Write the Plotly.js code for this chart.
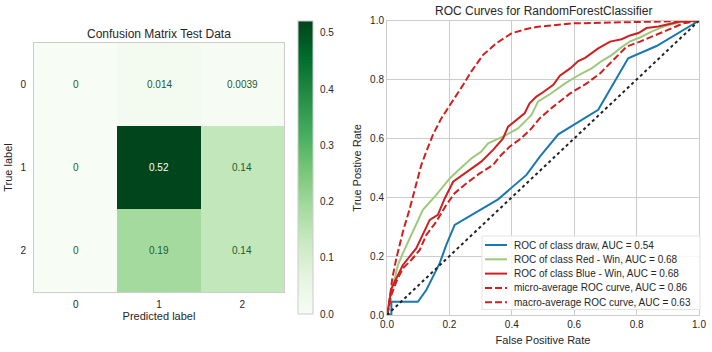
<!DOCTYPE html>
<html>
<head>
<meta charset="utf-8">
<script src="https://cdn.plot.ly/plotly-3.0.1.min.js"></script>
<style>html,body{margin:0;padding:0;background:#fff}#chart{width:712px;height:352px}</style>
</head>
<body>
<div id="chart"></div>
<script>
// ---- Confusion matrix data ----
var cmLabels = ["0", "1", "2"];
var cmRow0 = [0, 0.014, 0.0039];
var cmRow1 = [0, 0.52, 0.14];
var cmRow2 = [0, 0.19, 0.14];

// ---- ROC data ----
var drawFpr = [0, 0.014, 0.014, 0.099, 0.126, 0.169, 0.19, 0.217, 0.356, 0.447, 0.49, 0.549, 0.677, 0.773, 0.864, 1.0];
var drawTpr = [0, 0.002, 0.045, 0.045, 0.085, 0.176, 0.238, 0.306, 0.393, 0.476, 0.538, 0.614, 0.697, 0.872, 0.914, 1.0];

var redWinFpr = [0, 0.003, 0.009, 0.025, 0.035, 0.051, 0.083, 0.115, 0.158, 0.201, 0.233, 0.27, 0.302, 0.324, 0.372, 0.42, 0.463, 0.484, 0.5, 0.522, 0.571, 0.619, 0.656, 0.688, 0.72, 0.747, 0.779, 0.811, 0.848, 0.886, 0.939, 1.0];
var redWinTpr = [0, 0.02, 0.057, 0.125, 0.17, 0.21, 0.283, 0.357, 0.408, 0.464, 0.496, 0.532, 0.555, 0.583, 0.606, 0.634, 0.68, 0.725, 0.736, 0.75, 0.787, 0.818, 0.838, 0.863, 0.883, 0.906, 0.93, 0.943, 0.963, 0.98, 0.995, 1.0];

var blueWinFpr = [0, 0.003, 0.006, 0.014, 0.03, 0.051, 0.094, 0.115, 0.137, 0.163, 0.185, 0.212, 0.249, 0.286, 0.302, 0.34, 0.372, 0.388, 0.415, 0.441, 0.457, 0.479, 0.5, 0.533, 0.554, 0.587, 0.613, 0.635, 0.677, 0.715, 0.752, 0.779, 0.806, 0.832, 0.87, 0.902, 0.939, 1.0];
var blueWinTpr = [0, 0.015, 0.034, 0.09, 0.125, 0.17, 0.227, 0.272, 0.323, 0.34, 0.396, 0.453, 0.481, 0.51, 0.521, 0.561, 0.6, 0.64, 0.663, 0.685, 0.719, 0.742, 0.757, 0.782, 0.813, 0.838, 0.863, 0.874, 0.906, 0.929, 0.937, 0.95, 0.958, 0.975, 0.98, 0.988, 0.997, 1.0];

var microFpr = [0, 0.003, 0.009, 0.017, 0.03, 0.051, 0.073, 0.094, 0.11, 0.126, 0.147, 0.174, 0.206, 0.244, 0.27, 0.308, 0.35, 0.399, 0.447, 0.489, 0.597, 0.811, 1.0];
var microTpr = [0, 0.011, 0.057, 0.125, 0.193, 0.283, 0.362, 0.442, 0.51, 0.555, 0.612, 0.668, 0.719, 0.782, 0.827, 0.884, 0.923, 0.957, 0.972, 0.98, 0.991, 0.997, 1.0];

var macroFpr = [0, 0.003, 0.014, 0.03, 0.051, 0.078, 0.105, 0.126, 0.158, 0.19, 0.217, 0.254, 0.297, 0.34, 0.361, 0.393, 0.43, 0.463, 0.489, 0.533, 0.587, 0.64, 0.683, 0.725, 0.768, 0.811, 0.859, 0.896, 0.95, 1.0];
var macroTpr = [0, 0.01, 0.068, 0.113, 0.159, 0.187, 0.221, 0.272, 0.317, 0.374, 0.414, 0.447, 0.481, 0.51, 0.538, 0.572, 0.6, 0.634, 0.668, 0.708, 0.753, 0.787, 0.821, 0.867, 0.912, 0.929, 0.951, 0.968, 0.991, 1.0];

var diagX = [0, 1];
var diagY = [0, 1];

var rocNames = ["ROC of class draw, AUC = 0.54", "ROC of class Red - Win, AUC = 0.68", "ROC of class Blue - Win, AUC = 0.68", "micro-average ROC curve, AUC = 0.86", "macro-average ROC curve, AUC = 0.63"];

// ---- build ----
var W = 712, H = 352;
var FONT = '"Liberation Sans", Arial, "DejaVu Sans", sans-serif';
var TXT = '#262626';
var GRID = '#cccccc';
var C_BLUE = '#1a78b0', C_GREEN = '#9cc97c', C_RED = '#d01f1f';
var DASH = '7px,3px';

var cmZ = [cmRow0, cmRow1, cmRow2];
var greens = [[0, 'rgb(247,252,245)'], [0.125, 'rgb(229,245,224)'], [0.25, 'rgb(199,233,192)'], [0.375, 'rgb(161,217,155)'], [0.5, 'rgb(116,196,118)'], [0.625, 'rgb(65,171,93)'], [0.75, 'rgb(35,139,69)'], [0.875, 'rgb(0,109,44)'], [1, 'rgb(0,68,27)']];
var zmax = 0.521;

function fmt(v) { return String(Number(v.toPrecision(2))); }
function fx(p) { return p / W; }
function fy(p) { return (H - p) / H; }

var annotations = [];
var shapes = [];
for (var r = 0; r < cmZ.length; r++) {
  for (var c = 0; c < cmZ[r].length; c++) {
    var v = cmZ[r][c];
    annotations.push({
      x: cmLabels[c], y: cmLabels[r], xref: 'x', yref: 'y', text: fmt(v), showarrow: false,
      font: {family: FONT, size: 10, color: v > zmax * 0.6 ? '#ffffff' : '#1d5a30'}
    });
  }
}

var styles = [
  {color: C_BLUE, dash: 'solid'},
  {color: C_GREEN, dash: 'solid'},
  {color: C_RED, dash: 'solid'},
  {color: C_RED, dash: DASH},
  {color: C_RED, dash: DASH}
];
var rocX = [drawFpr, redWinFpr, blueWinFpr, microFpr, macroFpr];
var rocY = [drawTpr, redWinTpr, blueWinTpr, microTpr, macroTpr];

var traces = [
  {
    type: 'heatmap', z: cmZ, x: cmLabels, y: cmLabels, xaxis: 'x', yaxis: 'y',
    colorscale: greens, zmin: 0, zmax: zmax, xgap: 0, ygap: 0, hoverinfo: 'skip',
    colorbar: {
      x: fx(298), xanchor: 'left', xpad: 0, ypad: 0, thickness: 15, thicknessmode: 'pixels',
      len: (314 - 21) / H, lenmode: 'fraction', y: fy(314), yanchor: 'bottom',
      outlinecolor: GRID, outlinewidth: 1, tickvals: [0, 0.1, 0.2, 0.3, 0.4, 0.5], tickformat: '.1f',
      ticks: 'outside', ticklen: 5, tickcolor: 'rgba(0,0,0,0)',
      tickfont: {family: FONT, size: 10, color: TXT}
    },
    showlegend: false
  }
];
for (var i = 0; i < rocX.length; i++) {
  traces.push({type: 'scatter', mode: 'lines', x: rocX[i], y: rocY[i], xaxis: 'x2', yaxis: 'y2', name: rocNames[i],
    showlegend: false, line: {color: styles[i].color, width: 2, dash: styles[i].dash}});
}
traces.push({type: 'scatter', mode: 'lines', x: diagX, y: diagY, xaxis: 'x2', yaxis: 'y2', showlegend: false, line: {color: '#222222', width: 2, dash: 'dot'}});

// legend (drawn as box + samples + labels)
var legTop = 236, legBottom = 309.5, legLeft = 482, legRight = 700;
var rowY = [245, 259.3, 273.6, 287.9, 302.2];
shapes.push({type: 'rect', xref: 'paper', yref: 'paper', x0: fx(legLeft), x1: fx(legRight), y0: fy(legBottom), y1: fy(legTop),
  fillcolor: 'rgba(255,255,255,0.85)', line: {color: '#e3e3e3', width: 1}, layer: 'above'});
for (var k = 0; k < rocNames.length; k++) {
  shapes.push({type: 'line', xref: 'paper', yref: 'paper', x0: fx(485), x1: fx(507), y0: fy(rowY[k]), y1: fy(rowY[k]),
    line: {color: styles[k].color, width: 2, dash: styles[k].dash}, layer: 'above'});
  annotations.push({text: rocNames[k], xref: 'paper', yref: 'paper', x: fx(512), y: fy(rowY[k]), xanchor: 'left', yanchor: 'middle',
    showarrow: false, font: {family: FONT, size: 10, color: TXT}});
}

annotations.push({text: 'Confusion Matrix Test Data', xref: 'paper', yref: 'paper', x: fx((34 + 284) / 2), y: fy(34), showarrow: false, xanchor: 'center', yanchor: 'middle', font: {family: FONT, size: 12, color: TXT}});
annotations.push({text: 'ROC Curves for RandomForestClassifier', xref: 'paper', yref: 'paper', x: fx((387 + 699) / 2), y: fy(11), showarrow: false, xanchor: 'center', yanchor: 'middle', font: {family: FONT, size: 12, color: TXT}});

var axFont = {family: FONT, size: 11, color: TXT};
var tickFont = {family: FONT, size: 10, color: TXT};

var layout = {
  width: W, height: H, margin: {l: 0, r: 0, t: 0, b: 0},
  paper_bgcolor: '#ffffff', plot_bgcolor: '#ffffff',
  font: {family: FONT, color: TXT},
  showlegend: false,
  xaxis: {domain: [fx(34), fx(284)], range: [-0.5, 2.5], type: 'category', showgrid: false, zeroline: false,
    showline: true, mirror: true, linecolor: GRID, linewidth: 1, ticks: 'outside', ticklen: 3, tickcolor: 'rgba(0,0,0,0)', tickfont: tickFont,
    title: {text: 'Predicted label', font: axFont, standoff: 3}, anchor: 'y'},
  yaxis: {domain: [fy(292), fy(43)], range: [2.5, -0.5], type: 'category', autorange: false, showgrid: false, zeroline: false,
    showline: true, mirror: true, linecolor: GRID, linewidth: 1, ticks: 'outside', ticklen: 5, tickcolor: 'rgba(0,0,0,0)', tickfont: tickFont,
    title: {text: 'True label', font: axFont, standoff: 5}, anchor: 'x'},
  xaxis2: {domain: [fx(387), fx(699)], range: [0, 1], showgrid: true, gridcolor: GRID, gridwidth: 1, zeroline: false,
    showline: true, mirror: true, linecolor: GRID, linewidth: 1, ticks: '', tickvals: [0, 0.2, 0.4, 0.6, 0.8, 1.0], tickformat: '.1f', tickfont: tickFont,
    title: {text: 'False Positive Rate', font: axFont, standoff: 7}, anchor: 'y2'},
  yaxis2: {domain: [fy(315), fy(20.7)], range: [0, 1], showgrid: true, gridcolor: GRID, gridwidth: 1, zeroline: false,
    showline: true, mirror: true, linecolor: GRID, linewidth: 1, ticks: '', tickvals: [0, 0.2, 0.4, 0.6, 0.8, 1.0], tickformat: '.1f', tickfont: tickFont,
    title: {text: 'True Postive Rate', font: axFont, standoff: 6}, anchor: 'x2'},
  shapes: shapes,
  annotations: annotations
};

Plotly.newPlot('chart', traces, layout, {staticPlot: true, displayModeBar: false});
</script>
</body>
</html>
